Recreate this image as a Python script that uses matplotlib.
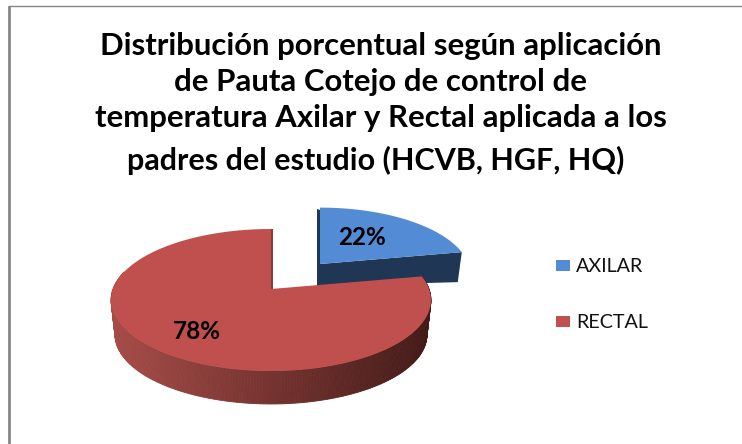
import numpy as np
import matplotlib
matplotlib.use("Agg")
import matplotlib.pyplot as plt
from matplotlib.collections import PolyCollection

categories = ["AXILAR", "RECTAL"]
values = [22, 78]
labels = ["22%", "78%"]
colors = ["#538BD4", "#C0504D"]
title = ("Distribución porcentual según aplicación\n"
         "de Pauta Cotejo de control de\n"
         "temperatura Axilar y Rectal aplicada a los\n"
         "padres del estudio (HCVB, HGF, HQ)")

fig = plt.figure(figsize=(7.42, 4.44), dpi=100, facecolor="white")
ax = fig.add_axes([0, 0, 1, 1])
ax.set_xlim(0, 742)
ax.set_ylim(444, 0)
ax.axis("off")

K = 0.155
R = 158.0
A = 69.3


def project(theta, r, cx, cy, s):
    """Projective tilt of the unit disc; theta is clockwise from the top."""
    u, v = r * np.sin(theta), r * np.cos(theta)
    w = 1 + K * v
    return cx + s * R * u / w, cy - s * A * v / w


def wedge(start, stop, cx, cy, s, n=160):
    t = np.linspace(start, stop, n)
    x, y = project(t, 1.0, cx, cy, s)
    return np.r_[cx, x], np.r_[cy, y]


fractions = np.array(values, dtype=float) / sum(values)
edges = np.r_[0, np.cumsum(fractions)] * 2 * np.pi

# Blue slice, pulled out from the pie
bx, by, bs, bd = 320.0, 264.0, 0.94, 22.0
tb = np.linspace(edges[0], edges[1], 80)
xb, yb = project(tb, 1.0, bx, by, bs)
ax.fill([bx - 3, bx, bx, bx - 3], [by - 55, by - 54, by + bd, by + bd],
        color="#1F3655", lw=0, zorder=1)
ax.fill([bx - 3, bx, xb[-1], xb[-1] - 4, bx - 2],
        [by + bd - 1, by, yb[-1], yb[-1] + 30, by + bd],
        color="#1F3655", lw=0, zorder=1)
wx, wy = wedge(edges[0], edges[1], bx, by, bs)
ax.fill(wx, wy, color=colors[0], lw=0, zorder=2)

# Red slice: thin inner wall, shaded rim and top face
rx, ry, rd, rs = 271.0, 289.0, 35.0, 0.975
tr = np.linspace(edges[1], edges[2], 300)
x0, y0 = project(tr, 1.0, rx, ry, 1.0)
x1, y1 = project(tr, 1.0, rx, ry + rd, rs)
quads, shades = [], []
light, dark = np.array([166, 76, 72]) / 255, np.array([68, 27, 24]) / 255
for i in range(len(tr) - 1):
    if np.cos(tr[i]) > 0.25 and tr[i] > np.pi:
        continue
    quads.append([(x0[i], y0[i]), (x0[i + 1], y0[i + 1]),
                  (x1[i + 1], y1[i + 1]), (x1[i], y1[i])])
    f = np.clip((0.5 * (x0[i] + x0[i + 1]) - 111) / 319, 0, 1)
    shades.append(light + (dark - light) * f)
ax.add_collection(PolyCollection(quads, facecolors=shades, edgecolors=shades,
                                 linewidths=0.6, zorder=3))
ax.fill([rx, rx + 2, rx + 2, rx], [ry - 60, ry - 60, ry, ry],
        color="#8A3A38", lw=0, zorder=3)
wx, wy = wedge(edges[1], edges[2], rx, ry, 1.0, n=300)
ax.fill(wx, wy, color=colors[1], lw=0, zorder=4)

# Data labels
ax.text(362, 237, labels[0], fontsize=17.5, fontweight="bold", family="Lato",
        ha="center", va="center", color="black", zorder=5)
ax.text(197, 331, labels[1], fontsize=17.5, fontweight="bold", family="Lato",
        ha="center", va="center", color="black", zorder=5)

# Title
for line, xx, yy, fs in zip(title.split("\n"), [381, 380, 381, 376],
                            [46, 82, 118, 160], [22.4, 22.4, 22.4, 22.0]):
    ax.text(xx, yy, line, fontsize=fs, fontweight="bold", family="Lato",
            ha="center", va="center", color="black", zorder=5)

# Legend
for name, col, yy in zip(categories, colors, [266, 322]):
    ax.fill([556, 570, 570, 556], [yy - 6, yy - 6, yy + 5, yy + 5], color=col, lw=0)
    ax.text(576, yy, name, fontsize=14.2, family="Lato", ha="left", va="center",
            color="#111111")

# Chart frame
ax.plot([8, 742], [6.5, 6.5], color="#868686", lw=1.0, solid_capstyle="butt")
ax.plot([8.5, 8.5], [6, 444], color="#868686", lw=2.0, solid_capstyle="butt")

fig.savefig("out.png", dpi=100, facecolor="white")
